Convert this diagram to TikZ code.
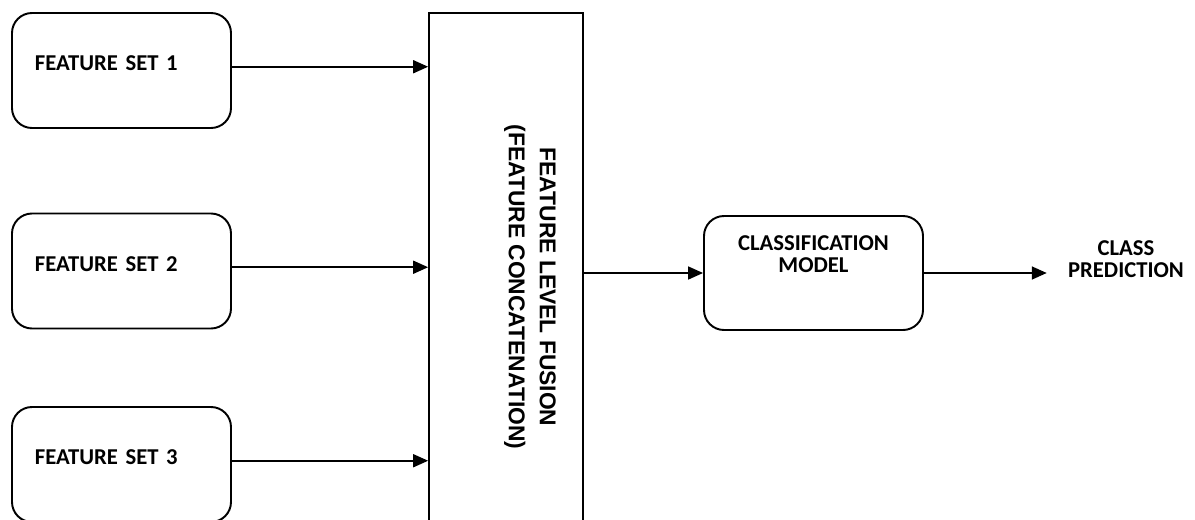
\documentclass[tikz,border=0pt]{standalone}
\usepackage{fontspec}
\setmainfont{Carlito}
\newfontfamily\arialfont{Liberation Sans}
\usepackage{tikz}
\usetikzlibrary{arrows.meta}
\tikzstyle{featbox} = [
    rectangle,
    rounded corners=0.4cm,
    minimum width=4.38cm,
    minimum height=2.3cm,
    text width=3.46cm,
    inner xsep=0.46cm,
    align=left,
    text depth=0.28cm,
    draw=black,
    line width=1.1pt,
    font=\fontsize{12.9}{12.6}\selectfont\bfseries
]
\tikzstyle{modelbox} = [
    rectangle,
    rounded corners=0.4cm,
    minimum width=4.38cm,
    minimum height=2.28cm,
    draw=black,
    line width=1.1pt
]
\tikzstyle{fusebox} = [
    rectangle,
    minimum width=3.08cm,
    minimum height=10.96cm,
    draw=black,
    line width=1pt
]
\tikzstyle{labeltext} = [
    align=center,
    inner sep=0pt,
    font=\fontsize{12.9}{12.6}\selectfont\bfseries
]
\tikzstyle{fusetext} = [
    align=center,
    inner sep=0pt,
    rotate=-90,
    font=\arialfont\fontsize{13}{17.6}\selectfont\bfseries
]
\tikzstyle{arrow} = [
    line width=0.9pt,
    -{Triangle[length=8.5pt, width=7.4pt]},
    color=black
]

\begin{document}
\begin{tikzpicture}
    \useasboundingbox (0,0) rectangle (23.9,10.38);
    \clip (0,0) rectangle (23.9,10.38);
    % Inputs
    \node[featbox] (set1) at (2.43, 8.97) {FEATURE SET 1};
    \node[featbox] (set2) at (2.43, 4.96) {FEATURE SET 2};
    \node[featbox] (set3) at (2.43, 1.09) {FEATURE SET 3};

    % Fusion
    \node[fusebox] (fusion) at (10.12, 4.64) {};
    \node[fusetext] (fusetxt) at (10.6, 4.64) {FEATURE LEVEL FUSION\\(FEATURE CONCATENATION)};

    % Classifier and output
    \node[modelbox] (model) at (16.27, 4.92) {};
    \node[labeltext] (modeltxt) at (16.27, 5.29) {CLASSIFICATION\\MODEL};
    \node[labeltext, inner xsep=0.42cm] (pred) at (22.52, 5.2) {CLASS\\PREDICTION};

    % Arrows
    \draw[arrow] (set1.mid east) -- (set1.mid east -| fusion.west);
    \draw[arrow] (set2.mid east) -- (set2.mid east -| fusion.west);
    \draw[arrow] (set3.mid east) -- (set3.mid east -| fusion.west);
    \draw[arrow] (fusion.east |- model.west) -- (model.west);
    \draw[arrow] (model.east) -- (model.east -| pred.west);
\end{tikzpicture}
\end{document}
